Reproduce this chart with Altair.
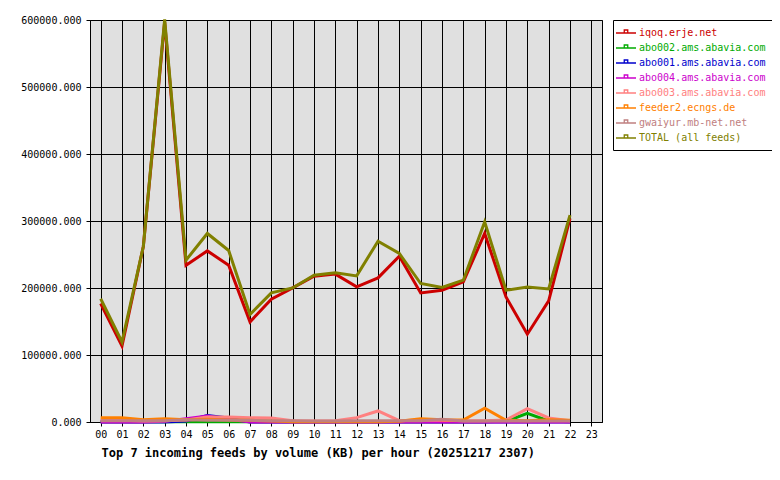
import altair as alt
import pandas as pd

hours = list(range(23))
series_names = ["iqoq.erje.net", "abo002.ams.abavia.com", "abo001.ams.abavia.com",
                "abo004.ams.abavia.com", "abo003.ams.abavia.com", "feeder2.ecngs.de",
                "gwaiyur.mb-net.net", "TOTAL (all feeds)"]
series_colors = ["#cc0000", "#00aa00", "#0000cc", "#cc00cc", "#ff8080", "#ff8000",
                 "#c08080", "#808000"]

iqoq = [176800, 113500, 262000, 597000, 234000, 255400, 234000, 149400, 183300, 200100,
        217600, 220700, 201700, 215100, 247500, 192700, 196700, 209100, 281400, 186700,
        131000, 180700, 303800]
abo002 = [300, 300, 300, 300, 300, 300, 300, 300, 300, 300, 300, 300, 300, 300, 300,
          300, 300, 300, 300, 1000, 13000, 1500, 300]
abo001 = [0, 0, 0, 0, 1500, 9500, 6000, 0, 0, 0, 0, 0, 0, 0, 0, 0, 0, 0, 0, 0, 0, 0, 0]
abo004 = [0, 0, 0, 1000, 5000, 9000, 4000, 0, 0, 0, 0, 0, 0, 0, 0, 0, 0, 0, 0, 0, 0, 0, 0]
abo003 = [2500, 2500, 1500, 2000, 3000, 7500, 7500, 6500, 6000, 2000, 1500, 2000, 6500,
          16500, 2000, 3000, 2500, 2000, 2000, 3000, 20000, 6000, 2000]
feeder2 = [6300, 6300, 3300, 4800, 3300, 4000, 3000, 2500, 1500, 500, 500, 500, 500, 500,
           1000, 5000, 3500, 3000, 20500, 2500, 2000, 3500, 2500]
gwaiyur = [2000, 2000, 2000, 2000, 3500, 2500, 2500, 2500, 2000, 2000, 1500, 1500, 2000,
           2000, 2000, 2000, 4000, 1500, 1500, 1500, 1500, 1500, 1500]
total = [184000, 119500, 262000, 601000, 241500, 281400, 256000, 160400, 192700, 200100,
         219100, 222800, 218100, 269900, 251500, 206700, 200700, 211700, 298700, 196700,
         201600, 198700, 308700]

y_ticks = [0, 100000, 200000, 300000, 400000, 500000, 600000]
x_ticks = list(range(24))

values = [iqoq, abo002, abo001, abo004, abo003, feeder2, gwaiyur, total]

mono = "DejaVu Sans Mono"

color_expr = ""
for n, c in zip(series_names, series_colors):
    color_expr += f"datum.value == '{n}' ? '{c}' : "
color_expr += "'black'"

color = alt.Color(
    "feed:N",
    scale=alt.Scale(domain=series_names, range=series_colors),
    legend=alt.Legend(
        title=None, orient="none", legendX=523, legendY=0,
        fillColor="white", strokeColor="black", padding=7,
        symbolType="M-2,0H2M-0.35,0V-0.6H0.35V0", symbolSize=100,
        symbolStrokeWidth=1.3, symbolFillColor="transparent",
        labelFont=mono, labelFontSize=10, labelOffset=7, rowPadding=4,
        labelColor=alt.ExprRef(color_expr), labelLimit=300,
    ),
)

layers = []
for i, (name, vals) in enumerate(zip(series_names, values)):
    df = pd.DataFrame({"hour": hours, "kb": vals, "feed": name})
    x = alt.X("hour:Q", scale=alt.Scale(domain=[-0.5, 23.5], nice=False, zero=False),
              axis=alt.Axis(values=x_ticks, format="02d", grid=True, gridColor="black",
                            gridOpacity=1, gridWidth=1, tickSize=4, tickColor="black",
                            domainColor="black", labelFont=mono, labelFontSize=10,
                            labelColor="black", labelPadding=3,
                            title="Top 7 incoming feeds by volume (KB) per hour (20251217 2307)",
                            titleFont=mono, titleFontSize=12, titleFontWeight="bold",
                            titleColor="black", titleX=11, titleY=30, titleAlign="left",
                            titleBaseline="middle", titleAnchor="start"))
    y = alt.Y("kb:Q", scale=alt.Scale(domain=[0, 600000], nice=False),
              axis=alt.Axis(values=y_ticks, format=".3f", grid=True, gridColor="black",
                            gridOpacity=1, gridWidth=1, tickSize=4, tickColor="black",
                            domainColor="black", labelFont=mono, labelFontSize=10,
                            labelColor="black", labelPadding=5, title=None))
    layers.append(
        alt.Chart(df).mark_line(strokeWidth=3, clip=False).encode(x=x, y=y, color=color)
    )

chart = alt.layer(*layers).properties(
    width=512, height=402,
    autosize=alt.AutoSizeParams(type="none"),
    padding={"left": 82, "top": 12, "right": 170, "bottom": 50},
    background="white",
).configure_view(fill="#e0e0e0", stroke="black", strokeWidth=1)

chart.save("out.html", embed_options={"renderer": "svg", "actions": False})
